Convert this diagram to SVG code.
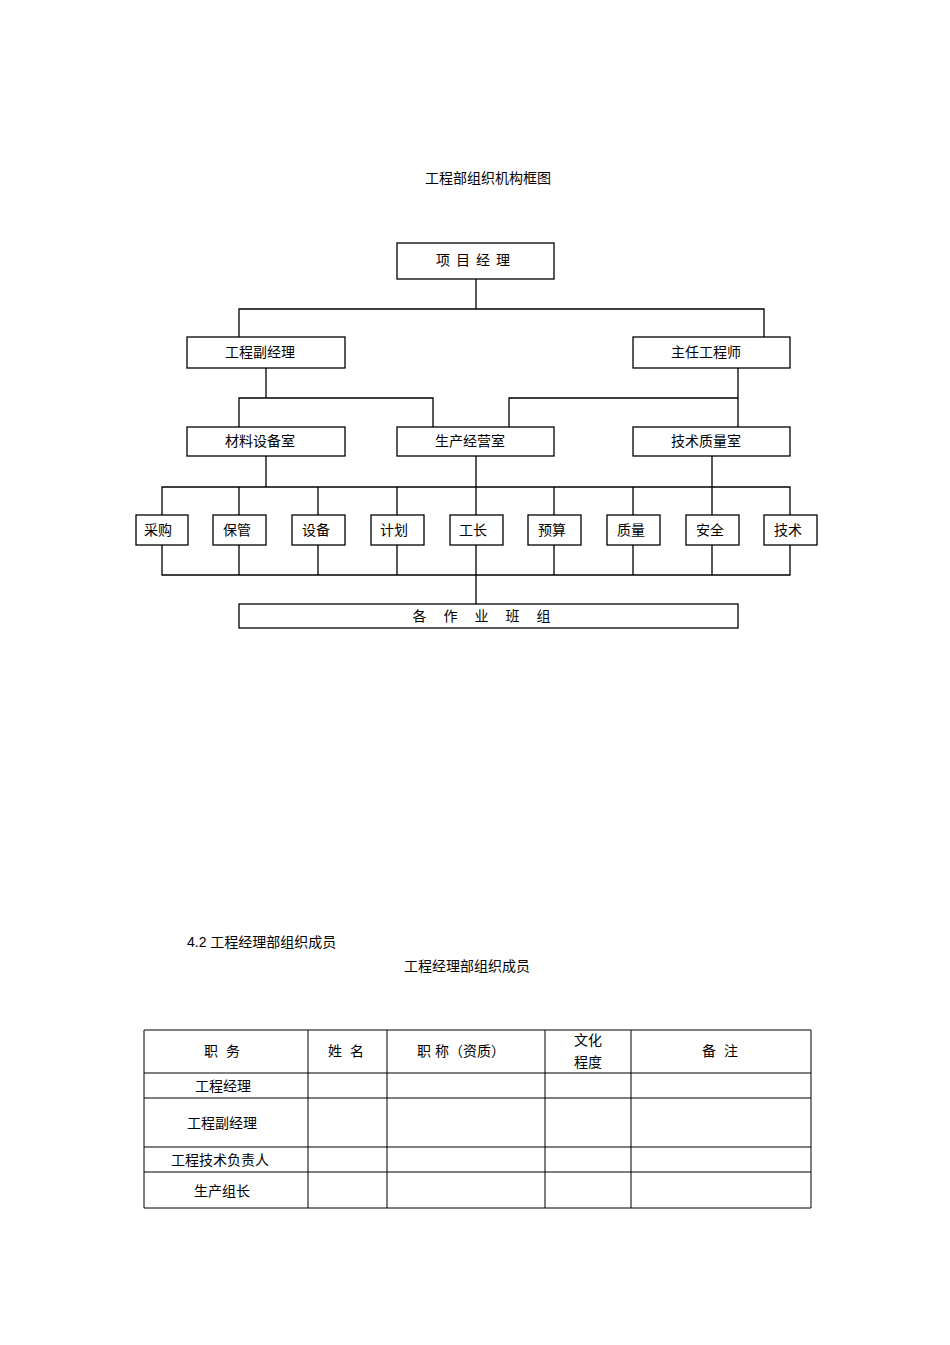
<svg xmlns="http://www.w3.org/2000/svg" width="950" height="1345" viewBox="0 0 950 1345">
<style>
text{font-family:"Liberation Sans","Noto Sans CJK SC",sans-serif;font-size:14px;fill:#000;text-anchor:middle;dominant-baseline:central}
.b{fill:#fff;stroke:#000;stroke-width:1.3}
.l{fill:none;stroke:#000;stroke-width:1.3}
.t{fill:none;stroke:#000;stroke-width:1}
</style>
<rect width="950" height="1345" fill="#fff"/>
<text x="488" y="178">工程部组织机构框图</text>
<g id="connectors">
<path class="l" d="M476 279V309M239 337V309H764V337M266 368V398M239 427V398H433V427M738 368V427M509 427V398H738M266 456V487M476 456V604M712 456V487M162 515V487H790V515M239 487V515M318 487V515M397 487V515M554 487V515M633 487V515M712 487V515M162 545V575H790V545M239 545V575M318 545V575M397 545V575M554 545V575M633 545V575M712 545V575"/>
</g>
<g id="n0"><rect class="b" x="397" y="243" width="157" height="36"/><text x="476" y="260" style="letter-spacing:6px">项目经理</text></g>
<g id="n1"><rect class="b" x="187" y="337" width="158" height="31"/><text x="260" y="352">工程副经理</text></g>
<g id="n2"><rect class="b" x="633" y="337" width="157" height="31"/><text x="706" y="352">主任工程师</text></g>
<g id="n3"><rect class="b" x="187" y="427" width="158" height="29"/><text x="260" y="441">材料设备室</text></g>
<g id="n4"><rect class="b" x="397" y="427" width="157" height="29"/><text x="470" y="441">生产经营室</text></g>
<g id="n5"><rect class="b" x="633" y="427" width="157" height="29"/><text x="706" y="441">技术质量室</text></g>
<g id="s1"><rect class="b" x="136" y="515" width="52" height="30"/><text x="158" y="530">采购</text></g>
<g id="s2"><rect class="b" x="213" y="515" width="53" height="30"/><text x="237" y="530">保管</text></g>
<g id="s3"><rect class="b" x="292" y="515" width="53" height="30"/><text x="316" y="530">设备</text></g>
<g id="s4"><rect class="b" x="371" y="515" width="53" height="30"/><text x="394" y="530">计划</text></g>
<g id="s5"><rect class="b" x="450" y="515" width="53" height="30"/><text x="473" y="530">工长</text></g>
<g id="s6"><rect class="b" x="528" y="515" width="53" height="30"/><text x="552" y="530">预算</text></g>
<g id="s7"><rect class="b" x="607" y="515" width="53" height="30"/><text x="631" y="530">质量</text></g>
<g id="s8"><rect class="b" x="686" y="515" width="53" height="30"/><text x="710" y="530">安全</text></g>
<g id="s9"><rect class="b" x="764" y="515" width="53" height="30"/><text x="788" y="530">技术</text></g>
<g id="n6"><rect class="b" x="239" y="604" width="499" height="24"/><text x="490" y="616" style="letter-spacing:17px">各作业班组</text></g>
<text x="187" y="942" style="text-anchor:start">4.2 工程经理部组织成员</text>
<text x="467" y="966">工程经理部组织成员</text>
<g id="table">
<path class="t" d="M144 1030H811V1208H144ZM144 1073H811M144 1098H811M144 1147H811M144 1172H811M308 1030V1208M387 1030V1208M545 1030V1208M631 1030V1208"/>
<text x="226" y="1051" style="letter-spacing:8px">职务</text>
<text x="350" y="1051" style="letter-spacing:8px">姓名</text>
<text x="461" y="1051">职 称（资质）</text>
<text x="588" y="1040">文化</text>
<text x="588" y="1062">程度</text>
<text x="724" y="1051" style="letter-spacing:8px">备注</text>
<text x="223" y="1086">工程经理</text>
<text x="222" y="1123">工程副经理</text>
<text x="220" y="1160">工程技术负责人</text>
<text x="222" y="1191">生产组长</text>
</g>
</svg>
